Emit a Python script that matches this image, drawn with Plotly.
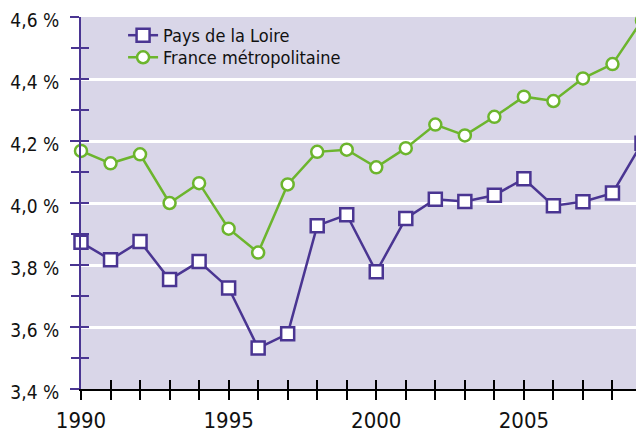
import plotly.graph_objects as go

years = list(range(1990, 2010))
pays_de_la_loire = [3.873, 3.817, 3.876, 3.753, 3.811, 3.726, 3.532, 3.578, 3.927, 3.962,
                    3.778, 3.950, 4.012, 4.005, 4.025, 4.078, 3.991, 4.004, 4.032, 4.193]
france_metro = [4.168, 4.128, 4.157, 4.000, 4.064, 3.917, 3.840, 4.060, 4.165, 4.172,
                4.115, 4.177, 4.253, 4.218, 4.278, 4.343, 4.329, 4.402, 4.448, 4.589]
series_names = ["Pays de la Loire", "France métropolitaine"]

y_major_vals = [3.4, 3.6, 3.8, 4.0, 4.2, 4.4, 4.6]
y_major_text = ["3,4 %", "3,6 %", "3,8 %", "4,0 %", "4,2 %", "4,4 %", "4,6 %"]
y_all_ticks = [3.4, 3.5, 3.6, 3.7, 3.8, 3.9, 4.0, 4.1, 4.2, 4.3, 4.4, 4.5, 4.6]
x_ticktext = [str(y) if y % 5 == 0 else "" for y in years]

PURPLE = "#4a3592"
GREEN = "#6cb52d"
BG = "#d9d6e8"
FONT = "DejaVu Sans Condensed, Liberation Sans Narrow, sans-serif"

fig = go.Figure()
fig.add_trace(go.Scatter(
    x=years, y=pays_de_la_loire, name=series_names[0], mode="lines+markers",
    line=dict(color=PURPLE, width=2.5),
    marker=dict(symbol="square", size=13, color="white", line=dict(color=PURPLE, width=2.5)),
    cliponaxis=False, legend="legend"))
fig.add_trace(go.Scatter(
    x=years, y=france_metro, name=series_names[1], mode="lines+markers",
    line=dict(color=GREEN, width=2.5),
    marker=dict(symbol="circle", size=12, color="white", line=dict(color=GREEN, width=2.5)),
    cliponaxis=False, legend="legend2"))
# invisible helper trace that carries the overlay axes (inner halves of the crossing ticks)
fig.add_trace(go.Scatter(
    x=years, y=france_metro, xaxis="x2", yaxis="y2", mode="markers",
    marker=dict(opacity=0), showlegend=False, hoverinfo="skip"))

legend_style = dict(xanchor="left", yanchor="top", bgcolor="rgba(0,0,0,0)",
                    font=dict(size=18), itemwidth=30, borderwidth=0)

# the page body has an 8px margin, so the figure is 8px smaller than the window
fig.update_layout(
    template="none",
    width=636, height=424,
    margin=dict(l=73, r=2, t=9, b=43),
    paper_bgcolor="white", plot_bgcolor=BG,
    font=dict(family=FONT, size=19, color="#111111"),
    showlegend=True,
    legend=dict(x=0.075, y=1.0, **legend_style),
    legend2=dict(x=0.075, y=0.9407, **legend_style),
    xaxis=dict(range=[1990, 2009], tickmode="array", tickvals=years, ticktext=x_ticktext,
               tickfont=dict(size=22), ticklabelstandoff=2, ticklabeloverflow="allow",
               showgrid=False, zeroline=False, showline=True, linecolor="black", linewidth=2,
               ticks="outside", ticklen=9, tickwidth=2, tickcolor="black", automargin=False),
    yaxis=dict(range=[3.4, 4.6], tickmode="array", tickvals=y_major_vals, ticktext=y_major_text,
               tickfont=dict(size=19), ticklabeloverflow="allow", ticklabelshift=3,
               showgrid=True, gridcolor="white", gridwidth=2.5,
               zeroline=False, showline=True, linecolor=PURPLE, linewidth=2,
               ticks="outside", ticklen=9, tickwidth=2, tickcolor=PURPLE,
               ticklabelstandoff=7, automargin=False,
               minor=dict(tickmode="array", tickvals=y_all_ticks, ticks="outside", ticklen=8,
                          tickwidth=2, tickcolor=PURPLE, showgrid=False)),
    xaxis2=dict(range=[1990, 2009], overlaying="x", tickmode="array", tickvals=years,
                showticklabels=False, showgrid=False, zeroline=False, showline=False,
                ticks="inside", ticklen=9, tickwidth=2, tickcolor="black", automargin=False),
    yaxis2=dict(range=[3.4, 4.6], overlaying="y", tickmode="array", tickvals=y_all_ticks,
                showticklabels=False, showgrid=False, zeroline=False, showline=False,
                ticks="inside", ticklen=8, tickwidth=2, tickcolor=PURPLE, automargin=False),
)

fig.write_html("out.html")
